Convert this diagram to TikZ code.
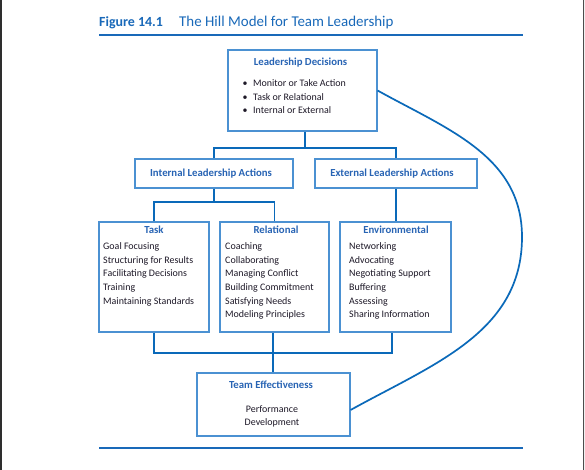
\documentclass[tikz,border=0pt]{standalone}
\usepackage{fontspec}
\setmainfont{Carlito}
\usetikzlibrary{positioning}

\definecolor{titleblue}{RGB}{25,105,185}
\definecolor{boxblue}{RGB}{75,145,210}
\definecolor{linkblue}{RGB}{10,105,185}
\definecolor{headblue}{RGB}{40,100,180}
\definecolor{textdark}{RGB}{30,25,40}

\begin{document}
\begin{tikzpicture}[x=1bp, y=-1bp]
  \tikzset{
    box/.style={draw=boxblue, line width=1.1bp, inner sep=0pt},
    head/.style={font=\bfseries\fontsize{10.8}{12}\selectfont, text=headblue, inner sep=0pt, anchor=base},
    item/.style={font=\fontsize{10}{12}\selectfont, text=textdark, inner sep=0pt, anchor=base west},
    link/.style={draw=linkblue, line width=1.7bp},
    rule/.style={draw=titleblue, line width=1.2bp}
  }

  % page and screen edges
  \useasboundingbox (0,0) rectangle (585,470);
  \fill[white] (0,0) rectangle (585,470);
  \fill[black!82] (0,0) rectangle (2,470);
  \fill[black!6] (583,0) rectangle (585,470);
  \draw[black!70, line width=0.8bp] (583.4,0) -- (583.4,470);

  % title
  \node[font=\bfseries\fontsize{14}{16}\selectfont, text=titleblue, inner sep=0pt, anchor=base west] (fig) at (99,27) {Figure 14.1};
  \node[font=\fontsize{15}{17}\selectfont, text=titleblue, inner sep=0pt, anchor=base west] (title) at (179,27) {The Hill Model for Team Leadership};
  \coordinate (rtl) at (99,35);
  \coordinate (rtr) at (523,35);
  \coordinate (rbl) at (99,448);
  \coordinate (rbr) at (523,448);
  \draw[rule] (rtl) -- (rtr);
  \draw[rule] (rbl) -- (rbr);

  % boxes
  \node[box, minimum width=149bp, minimum height=81bp] (dec) at (302.5,90.5) {};
  \node[box, minimum width=158bp, minimum height=29bp] (intl) at (214,173.5) {};
  \node[box, minimum width=162bp, minimum height=29bp] (extl) at (396,173.5) {};
  \node[box, minimum width=110bp, minimum height=110bp] (task) at (154,277) {};
  \node[box, minimum width=109bp, minimum height=110bp] (rel) at (274.5,277) {};
  \node[box, minimum width=111bp, minimum height=110bp] (env) at (395.5,277) {};
  \node[box, minimum width=153bp, minimum height=63bp] (team) at (273.5,404.5) {};

  % Leadership Decisions
  \node[head] (dec-h) at (300.5,66) {Leadership Decisions};
  \foreach \t [count=\i from 0] in {Monitor or Take Action, Task or Relational, Internal or External} {
    \node[item] (dec-b\i) at (242.5,87+13.5*\i) {\textbullet};
    \node[item] (dec-\i) at (253,87+13.5*\i) {\t};
  }

  % actions
  \node[head] (intl-h) at (211,177) {Internal Leadership Actions};
  \node[head] (extl-h) at (392,177) {External Leadership Actions};

  % Task, Relational, Environmental
  \node[head] (task-h) at (154,234) {Task};
  \foreach \t [count=\i from 0] in {Goal Focusing, Structuring for Results, Facilitating Decisions, Training, Maintaining Standards}
    \node[item] (task-\i) at (103,250+13.5*\i) {\t};
  \node[head] (rel-h) at (276,234) {Relational};
  \foreach \t [count=\i from 0] in {Coaching, Collaborating, Managing Conflict, Building Commitment, Satisfying Needs, Modeling Principles}
    \node[item] (rel-\i) at (225,250+13.5*\i) {\t};
  \node[head] (env-h) at (396,234) {Environmental};
  \foreach \t [count=\i from 0] in {Networking, Advocating, Negotiating Support, Buffering, Assessing, Sharing Information}
    \node[item] (env-\i) at (349,250+13.5*\i) {\t};

  % Team Effectiveness
  \node[head] (team-h) at (271,388) {Team Effectiveness};
  \node[item, anchor=base] (team-1) at (272,412) {Performance};
  \node[item, anchor=base] (team-2) at (272,425.5) {Development};

  % connectors
  \coordinate (j1) at (305,148);
  \coordinate (j2) at (214,202);
  \coordinate (j3) at (273,353);
  \coordinate (j4) at (392,353);
  \draw[link] (dec.south -| j1) -- (j1);
  \draw[link] (intl.north) |- (j1) -| (extl.north);
  \draw[link] (intl.south) -- (j2);
  \draw[link] (task.north) |- (j2) -| (rel.north);
  \draw[link] (extl.south) -- (extl.south |- env.north);
  \draw[link] (task.south) |- (j4) -- (j4 |- env.south);
  \draw[link] (rel.south -| j3) -- (team.north -| j3);

  % feedback loop
  \coordinate (loopr) at (522,237);
  \draw[link] (dec.east) to[out=-29, in=90] (loopr) to[out=-90, in=29] ([yshift=-5.5bp]team.east);
\end{tikzpicture}
\end{document}
